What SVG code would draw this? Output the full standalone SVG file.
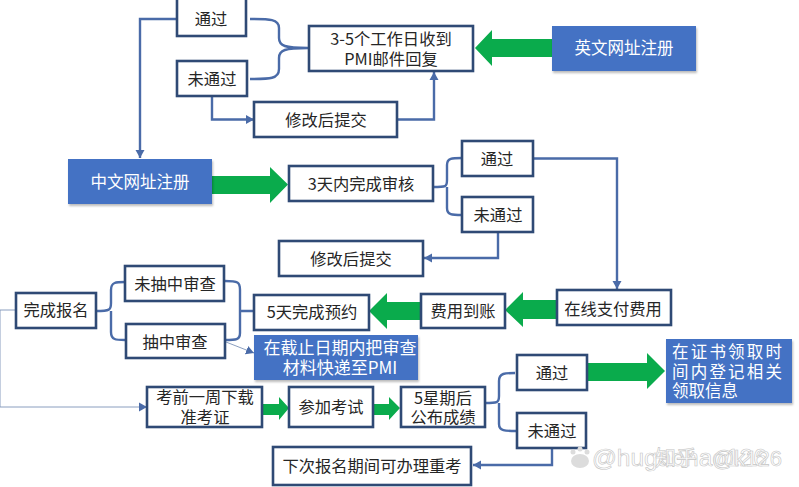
<svg xmlns="http://www.w3.org/2000/svg" width="799" height="487" viewBox="0 0 799 487">
<style>
text{font-family:"Noto Sans CJK SC","Noto Sans",sans-serif;font-size:16.3px;fill:#262626;text-anchor:middle}
.b rect{fill:#fff;stroke:#2f4a75;stroke-width:2.6}
.f rect{fill:#4472c4;filter:drop-shadow(1px 2px 1px #0004)}
.f text{fill:#fff;font-size:16.5px}
.c path{fill:none;stroke:#4a6ba8;stroke-width:2.4}
.c path.t{stroke-width:.9;stroke:#7d93b8}
.g polygon{fill:#0aab4c}
.w text{fill:#fff;stroke:#c4c4c4;stroke-width:.6;font-size:24.500px;text-anchor:start;font-family:"Liberation Sans",sans-serif}
.w .p{fill:#dcdcdc}
</style>
<defs><marker id="a" markerUnits="userSpaceOnUse" markerWidth="9" markerHeight="10" refX="8" refY="5" orient="auto"><path d="M0 .5L8 5L0 9.500Z" fill="#4a6ba8"/></marker></defs>
<rect width="799" height="487" fill="#fff"/>
<g class="c" id="connectors">
<path d="M176 19H140V158" marker-end="url(#a)"/>
<path d="M250 19C270 19 279 19 279 28V38C279 46 285 48 308 48M250 79C270 79 279 79 279 69V58C279 50 285 48 308 48"/>
<path d="M212 97V119.500H254" marker-end="url(#a)"/>
<path d="M397 119.500H434V72" marker-end="url(#a)"/>
<path d="M433 187C446 187 447 187 447 180V165C447 158 452 158 462 158M447 187V208C447 215 452 215 462 215"/>
<path d="M533 158.500H617V289" marker-end="url(#a)"/>
<path d="M498 232V258H424" marker-end="url(#a)"/>
<path d="M96 311C110 311 111 310 111 303V290C111 282 116 282 125 282M111 311V332C111 340 116 340 125 340"/>
<path d="M225 281C238 281 240 282 240 290V333C240 340 236 340 225 340M240 311H254"/>
<path class="t" d="M226 342L254 353" marker-end="url(#a)"/>
<path class="t" d="M16 310H0V407H147" marker-end="url(#a)"/>
<path d="M485 403C497 403 499 403 499 396V381C499 373 505 373 515 373M499 403V424C499 431 505 431 516 431"/>
<path d="M552 449V465H473" marker-end="url(#a)"/>
</g>
<g class="g" id="arrows">
<polygon points="552,39 492,39 492,30 475,48 492,66 492,57 552,57"/>
<polygon points="212,176 270,176 270,167 288,184.500 270,203 270,194 212,194"/>
<polygon points="557,300 523,300 523,292 505,310 523,327 523,319 557,319"/>
<polygon points="420,302 387,302 387,293 369,311 387,329 387,320 420,320"/>
<polygon points="262,404 279,404 279,397 289,408 279,420 279,415 262,415"/>
<polygon points="374,404 389,404 389,397 400,408 389,420 389,415 374,415"/>
<polygon points="588,363 647,363 647,353 665,371 647,389 647,381 588,381"/>
</g>
<g id="n1" class="b"><rect x="177" y="-2" width="69" height="38"/><text x="211" y="25">通过</text></g>
<g id="n2" class="b"><rect x="177" y="61" width="70" height="35"/><text x="212" y="85">未通过</text></g>
<g id="n3" class="b"><rect x="309" y="26" width="164" height="45"/><text x="391" y="45">3-5个工作日收到<tspan x="391" dy="19.500">PMI邮件回复</tspan></text></g>
<g id="n4" class="f"><rect x="552" y="26" width="144" height="45"/><text x="624" y="54">英文网址注册</text></g>
<g id="n5" class="b"><rect x="254" y="102" width="143" height="35"/><text x="326" y="126">修改后提交</text></g>
<g id="n6" class="f"><rect x="68" y="159" width="144" height="45"/><text x="140" y="188">中文网址注册</text></g>
<g id="n7" class="b"><rect x="289" y="166" width="144" height="35"/><text x="361" y="190">3天内完成审核</text></g>
<g id="n8" class="b"><rect x="462" y="141" width="71" height="35"/><text x="497" y="165">通过</text></g>
<g id="n9" class="b"><rect x="462" y="197" width="71" height="35"/><text x="498" y="221">未通过</text></g>
<g id="n10" class="b"><rect x="279" y="241" width="144" height="35"/><text x="351" y="265">修改后提交</text></g>
<g id="n11" class="b"><rect x="557" y="290" width="114" height="35"/><text x="613" y="315">在线支付费用</text></g>
<g id="n12" class="b"><rect x="421" y="294" width="84" height="34"/><text x="463" y="317">费用到账</text></g>
<g id="n13" class="b"><rect x="254" y="295" width="115" height="35"/><text x="312" y="318">5天完成预约</text></g>
<g id="n14" class="b"><rect x="125" y="266" width="99" height="35"/><text x="175" y="290">未抽中审查</text></g>
<g id="n15" class="b"><rect x="126" y="324" width="99" height="34"/><text x="175" y="348">抽中审查</text></g>
<g id="n16" class="b"><rect x="16" y="293" width="80" height="35"/><text x="56" y="316">完成报名</text></g>
<g id="n17" class="f"><rect x="254" y="335" width="164" height="45"/><text x="340" y="354" style="font-size:17px">在截止日期内把审查<tspan x="340" dy="19.500">材料快递至PMI</tspan></text></g>
<g id="n18" class="b"><rect x="147" y="387" width="115" height="40"/><text x="205" y="403">考前一周下载<tspan x="205" dy="19.500">准考证</tspan></text></g>
<g id="n19" class="b"><rect x="289" y="387" width="84" height="40"/><text x="331" y="413">参加考试</text></g>
<g id="n20" class="b"><rect x="401" y="387" width="84" height="40"/><text x="443" y="404">5星期后<tspan x="443" dy="19">公布成绩</tspan></text></g>
<g id="n21" class="b"><rect x="517" y="355" width="70" height="35"/><text x="552" y="379">通过</text></g>
<g id="n22" class="b"><rect x="517" y="413" width="69" height="35"/><text x="552" y="437">未通过</text></g>
<g id="n23" class="f"><rect x="666" y="339" width="126" height="64"/><text x="672" y="358" style="text-anchor:start;letter-spacing:2.200px">在证书领取时<tspan x="672" dy="19.500">间内登记相关</tspan><tspan x="672" dy="19.500" style="letter-spacing:0">领取信息</tspan></text></g>
<g id="n24" class="b"><rect x="273" y="447" width="198" height="38"/><text x="372" y="472">下次报名期间可办理重考</text></g>
<g class="w" id="watermark">
<g class="p"><circle cx="573" cy="452" r="2.500"/><circle cx="580" cy="449" r="2.500"/><circle cx="587" cy="452" r="2.500"/><ellipse cx="580" cy="461" rx="9" ry="7"/></g>
<text x="592" y="466">@hugaohao126</text>
<text x="655" y="465" style="font-size:21px;font-family:'Noto Sans CJK SC',sans-serif">知乎</text>
<text x="712" y="466" style="font-size:22px">@k126</text>
</g>
</svg>
